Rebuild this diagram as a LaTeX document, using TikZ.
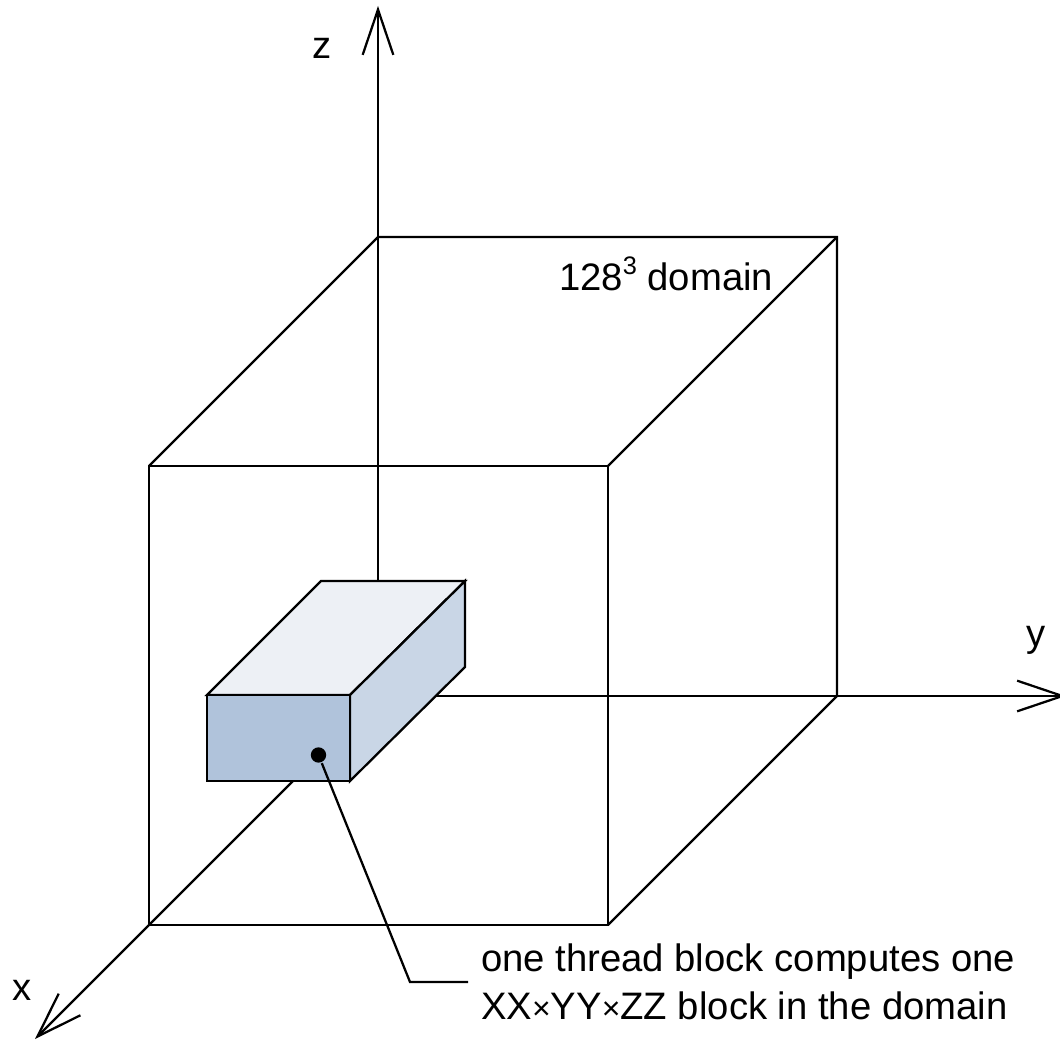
\documentclass[tikz,border=0pt]{standalone}
\usepackage{fontspec}
\setmainfont{Liberation Sans}
\usepackage{tikz}
\usetikzlibrary{arrows.meta}
\definecolor{bfront}{HTML}{B0C3DB}
\definecolor{bside}{HTML}{C9D6E6}
\definecolor{btop}{HTML}{EDF0F5}
\newcommand{\lblfont}{\fontsize{28.7}{36.4}\selectfont}
\newcommand{\xtimes}{{\fontsize{24}{24}\selectfont ×}}

\begin{document}
\begin{tikzpicture}[x=0.75pt,y=-0.75pt,line width=1.7pt,line join=miter,font=\lblfont,
    >={Straight Barb[length=34pt,width=23pt,line width=1.7pt]},
    boxface/.style={draw=black,line width=1.7pt}]
  \useasboundingbox (0,0) rectangle (1060,1041);
  % ---- axes, all from the hidden corner ----
  \coordinate (origin) at (378,696);
  \coordinate (xtip) at (35,1039);
  \coordinate (ytip) at (1066,696);
  \coordinate (ztip) at (378,6);
  \draw[->] (origin) -- (xtip);
  \draw[->] (origin) -- (ytip);
  \draw[->] (origin) -- (ztip);
  \node (xlabel) at (22,990) {x};
  \node (ylabel) at (1036,640) {y};
  \node (zlabel) at (322,48) {z};
  % ---- domain cube ----
  \coordinate (fa) at (149,466);
  \coordinate (fb) at (608,466);
  \coordinate (fc) at (608,925);
  \coordinate (fd) at (149,925);
  \coordinate (ba) at (378,237);
  \coordinate (bb) at (837,237);
  \coordinate (bc) at (837,696);
  \draw (fa) -- (fb) -- (fc) -- (fd) -- cycle;
  \draw (fa) -- (ba) -- (bb) -- (bc) -- (fc);
  \draw (fb) -- (bb);
  \node[anchor=base west,inner sep=0pt] (domain) at (558,291) {128\raisebox{0.44em}{\fontsize{19}{19}\selectfont 3} domain};
  % ---- thread block ----
  \coordinate (ka) at (207,695);
  \coordinate (kb) at (350,695);
  \coordinate (kc) at (350,781);
  \coordinate (kd) at (207,781);
  \coordinate (ke) at (321,581);
  \coordinate (kf) at (465,581);
  \coordinate (kg) at (465,667);
  \filldraw[boxface,fill=btop] (ka) -- (ke) -- (kf) -- (kb) -- cycle;
  \filldraw[boxface,fill=bside] (kb) -- (kf) -- (kg) -- (kc) -- cycle;
  \filldraw[boxface,fill=bfront] (ka) -- (kb) -- (kc) -- (kd) -- cycle;
  % ---- leader to the note ----
  \node[circle,fill=black,inner sep=0pt,minimum size=11.5pt] (dot) at (318.5,755) {};
  \node[anchor=west,align=left,inner sep=0pt,xshift=9pt] (note) at (468,982)
        {one thread block computes one\\XX\xtimes YY\xtimes ZZ block in the domain};
  \coordinate (bend) at (410,982);
  \draw (dot) -- (bend) -- ([xshift=-9pt]note.west);
\end{tikzpicture}
\end{document}
